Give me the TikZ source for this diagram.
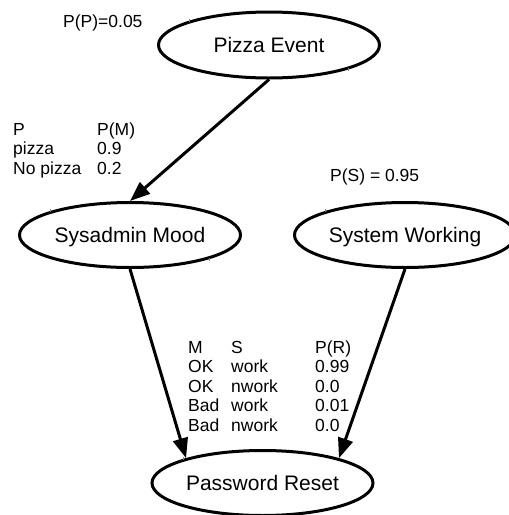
\documentclass[tikz,border=0pt]{standalone}
\usepackage{fontspec}
\setmainfont{Liberation Sans}
\usetikzlibrary{shapes.geometric,arrows.meta}

\begin{document}
\begin{tikzpicture}[x=1pt,y=-1pt,
  event/.style={ellipse, draw, line width=3pt, minimum width=221pt,
    minimum height=65pt, inner sep=0pt,
    font=\fontsize{21}{25}\selectfont, text height=15pt, text depth=0pt},
  link/.style={line width=3pt, -{Triangle[length=20pt,width=15pt]}},
  cpt/.style={anchor=base west, inner sep=0pt,
    font=\fontsize{17.5}{19.5}\selectfont},
  handle/.style={draw=gray, line width=1pt}]

  \useasboundingbox (0,0) rectangle (509,515);
  \begin{scope}
  \clip (0,0) rectangle (509,515);

  % variables of the network
  \node[event, minimum height=66pt] (pizza)    at (269,45)    {Pizza Event};
  \node[event] (mood)     at (130,235)   {Sysadmin Mood};
  \node[event] (system)   at (405,235)   {System Working};
  \node[event] (password) at (262.5,483) {Password Reset};

  % small corner handles of the selected shapes
  \foreach \c in {pizza.north west, pizza.south east,
                  mood.north west, mood.south east,
                  system.north west, password.north west}
    \draw[handle] (\c) ++(0,-1.5) -- ++(0,3);
  \end{scope}

  % dependencies
  \draw[link] (pizza.south) -- (mood.north);
  \draw[link] (mood.south) -- (password.162);
  \draw[link] (system.south) -- (password.18);

  % probability tables
  \node[cpt] (pp) at (63,27) {P(P)=0.05};
  \node[cpt] (ps) at (330,181) {P(S) = 0.95};
  \node[cpt] (pm) at (13,135) {%
    \begin{tabular}[t]{@{}p{84pt}@{}l@{}}
      P & P(M)\\
      pizza & 0.9\\
      No pizza & 0.2
    \end{tabular}};
  \node[cpt] (pr) at (188,353) {%
    \begin{tabular}[t]{@{}p{43pt}@{}p{84pt}@{}l@{}}
      M & S & P(R)\\
      OK & work & 0.99\\
      OK & nwork & 0.0\\
      Bad & work & 0.01\\
      Bad & nwork & 0.0
    \end{tabular}};
\end{tikzpicture}
\end{document}
